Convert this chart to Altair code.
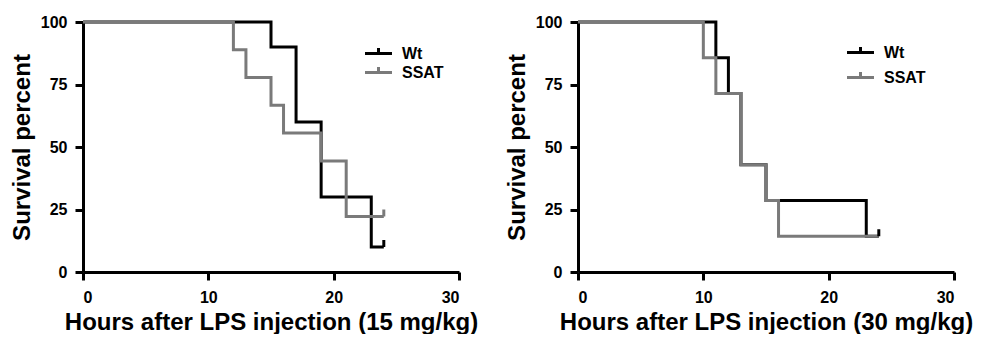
import altair as alt
import pandas as pd

groups = ["Wt", "SSAT"]
colors = ["#000000", "#7a7a7a"]

# Panel A: 15 mg/kg  (time in hours, survival percent)
a_wt_t = [0, 15, 17, 19, 23, 24]
a_wt_s = [100, 90, 60, 30, 10, 10]
a_ssat_t = [0, 12, 13, 15, 16, 19, 21, 24]
a_ssat_s = [100, 88.9, 77.8, 66.7, 55.6, 44.4, 22.2, 22.2]
a_cens_g = ["Wt", "SSAT"]
a_cens_t = [24, 24]
a_cens_s = [10, 22.2]

# Panel B: 30 mg/kg
b_wt_t = [0, 11, 12, 13, 15, 23, 24]
b_wt_s = [100, 85.7, 71.4, 42.9, 28.6, 14.3, 14.3]
b_ssat_t = [0, 10, 11, 13, 15, 16, 24]
b_ssat_s = [100, 85.7, 71.4, 42.9, 28.6, 14.3, 14.3]
b_cens_g = ["Wt"]
b_cens_t = [24]
b_cens_s = [14.3]

x_ticks = [0, 10, 20, 30]
y_ticks = [0, 25, 50, 75, 100]

FONT = "Liberation Sans"


def panel(wt_t, wt_s, ssat_t, ssat_s, cg, ct, cs, title, lx, ly, rowpad):
    wt = pd.DataFrame({"group": "Wt", "t": wt_t, "s": wt_s})
    ss = pd.DataFrame({"group": "SSAT", "t": ssat_t, "s": ssat_s})
    cens = pd.DataFrame({"group": cg, "t": ct, "s": cs})
    x = alt.X("t:Q", scale=alt.Scale(domain=[0, 30], nice=False),
              axis=alt.Axis(values=x_ticks, title=title, labelPadding=9, titlePadding=5))
    y = alt.Y("s:Q", scale=alt.Scale(domain=[0, 100], nice=False),
              axis=alt.Axis(values=y_ticks, title="Survival percent", labelPadding=8, titlePadding=6))
    color = alt.Color("group:N", scale=alt.Scale(domain=groups, range=colors),
                      legend=alt.Legend(title=None, orient="none", legendX=lx, legendY=ly,
                                        symbolType="M-2,0H2M0,0V-0.8", symbolSize=182,
                                        symbolStrokeWidth=3, labelFont=FONT, labelFontSize=16,
                                        labelFontWeight="bold", labelColor="black",
                                        labelOffset=15, rowPadding=rowpad))
    l1 = alt.Chart(wt).mark_line(interpolate="step-after", strokeWidth=3).encode(x=x, y=y, color=color)
    l2 = alt.Chart(ss).mark_line(interpolate="step-after", strokeWidth=3).encode(x=x, y=y, color=color)
    pts = alt.Chart(cens).mark_point(shape="M0,0V-1", size=196, strokeWidth=3, filled=False, opacity=1).encode(
        x=x, y=y, color=color)
    return alt.layer(l1, l2, pts).properties(width=376, height=250)


left = panel(a_wt_t, a_wt_s, a_ssat_t, a_ssat_s, a_cens_g, a_cens_t, a_cens_s,
             "Hours after LPS injection (15 mg/kg)", 287, 23, -1)
right = panel(b_wt_t, b_wt_s, b_ssat_t, b_ssat_s, b_cens_g, b_cens_t, b_cens_s,
              "Hours after LPS injection (30 mg/kg)", 274, 22, 5)

chart = alt.hconcat(left, right, spacing=27).resolve_legend(color="independent").properties(
    padding={"left": 2, "top": 6, "right": 0, "bottom": 0}
).configure_view(stroke=None).configure_axis(
    grid=False, domainColor="black", domainWidth=3, tickColor="black", tickWidth=3, tickSize=8,
    labelFont=FONT, labelFontSize=16, labelFontWeight="bold", labelColor="black",
    titleFont=FONT, titleFontSize=24, titleFontWeight="bold", titleColor="black",
)

chart.save("out.html", embed_options={"renderer": "svg", "actions": False})
